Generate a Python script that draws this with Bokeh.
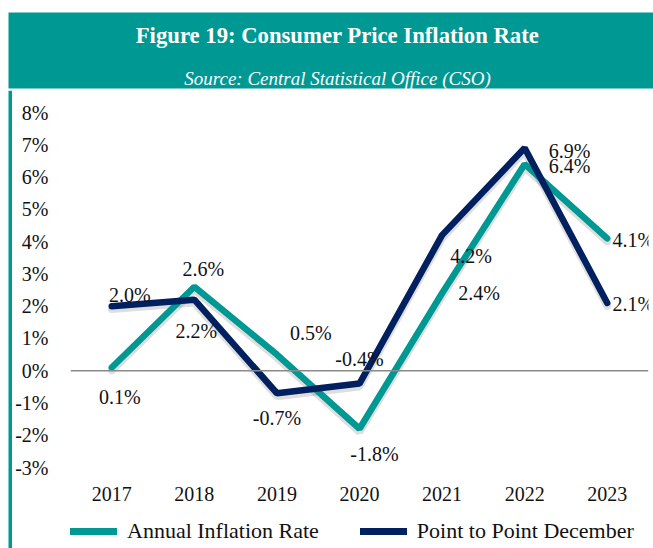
from bokeh.plotting import figure
from bokeh.layouts import column, row
from bokeh.models import (FactorRange, Range1d, FixedTicker, PrintfTickFormatter, Span,
                          Legend, LegendItem, ColumnDataSource)
from bokeh.embed import file_html
from bokeh.resources import INLINE
from bokeh.core.properties import value

# ---- data ----
years = ["2017", "2018", "2019", "2020", "2021", "2022", "2023"]
annual_inflation = [0.1, 2.6, 0.5, -1.8, 2.4, 6.4, 4.1]
point_to_point_dec = [2.0, 2.2, -0.7, -0.4, 4.2, 6.9, 2.1]
y_ticks = [-3, -2, -1, 0, 1, 2, 3, 4, 5, 6, 7, 8]
series_names = ["Annual Inflation Rate", "Point to Point December"]
title_text = "Figure 19: Consumer Price Inflation Rate"
subtitle_text = "Source: Central Statistical Office (CSO)"

# label placement (screen-pixel offsets, +y is down)
annual_dx = [8, 9, 34, 15, 37, 45, 26]
annual_dy = [30, -18, -22, 25, 0, 2, 2]
p2p_dx = [18, 2, 0, 0, 29, 45, 26]
p2p_dy = [-11, 31, 25, -25, 21, 3, 1]

TEAL = "#009893"
NAVY = "#002060"
FONT = "Liberation Serif"
TXT = "#111111"
Y_MIN, Y_MAX = -3, 8
SHADOW_SHIFT = 0.09  # about 3 px lower


def blank(w, h, xr, yr):
    f = figure(width=w, height=h, x_range=xr, y_range=yr, output_backend="svg",
               toolbar_location=None, x_axis_type=None, y_axis_type=None, min_border=0)
    f.outline_line_color = None
    f.xgrid.grid_line_color = None
    f.ygrid.grid_line_color = None
    f.background_fill_color = "white"
    f.border_fill_color = "white"
    return f


# ---- header band ----
hdr = blank(653, 90, Range1d(0, 653), Range1d(90, 0))
hdr.quad(left=[8], right=[653], top=[12], bottom=[88], fill_color=TEAL, line_color=None)
hdr.text(x=[337], y=[35], text=[title_text], text_font=value(FONT), text_font_size="22.7px",
         text_font_style="bold", text_color="white", text_align="center",
         text_baseline="alphabetic")
hdr.text(x=[337], y=[78], text=[subtitle_text], text_font=value(FONT), text_font_size="19px",
         text_font_style="italic", text_color="white", text_align="center",
         text_baseline="alphabetic")

# ---- left border ----
brd = blank(12, 458, Range1d(0, 12), Range1d(0, 458))
brd.quad(left=[8], right=[12], top=[458], bottom=[0], fill_color=TEAL, line_color=None)

# ---- main chart ----
p = figure(width=641, height=420, x_range=FactorRange(*years), y_range=Range1d(Y_MIN, Y_MAX),
           output_backend="svg", toolbar_location=None,
           min_border_left=57, min_border_right=5, min_border_top=22, min_border_bottom=43)
p.outline_line_color = None
p.xgrid.grid_line_color = None
p.ygrid.grid_line_color = None
p.background_fill_color = "white"
p.border_fill_color = "white"
p.extra_y_ranges = {"shadow": Range1d(Y_MIN + SHADOW_SHIFT, Y_MAX + SHADOW_SHIFT)}

p.yaxis.ticker = FixedTicker(ticks=y_ticks)
p.yaxis.formatter = PrintfTickFormatter(format="%d%%")
for ax in (p.xaxis[0], p.yaxis[0]):
    ax.axis_line_color = None
    ax.major_tick_line_color = None
    ax.minor_tick_line_color = None
    ax.major_label_text_font = FONT
    ax.major_label_text_font_size = "20px"
    ax.major_label_text_color = TXT
p.yaxis.major_label_standoff = 16
p.xaxis.major_label_standoff = 13

p.add_layout(Span(location=0, dimension="width", line_color="#8a8a8a", line_width=1.5))

src_a = ColumnDataSource(dict(x=years, y=annual_inflation,
                              t=["%.1f%%" % v for v in annual_inflation],
                              dx=annual_dx, dy=annual_dy))
src_p = ColumnDataSource(dict(x=years, y=point_to_point_dec,
                              t=["%.1f%%" % v for v in point_to_point_dec],
                              dx=p2p_dx, dy=p2p_dy))
# soft drop shadows
for s in (src_a, src_p):
    p.line("x", "y", source=s, y_range_name="shadow", line_color="black", line_alpha=0.13,
           line_width=8, line_cap="round")
p.line("x", "y", source=src_a, line_color=TEAL, line_width=6.5, line_cap="round")
p.line("x", "y", source=src_p, line_color=NAVY, line_width=6.5, line_cap="round")
for s in (src_a, src_p):
    p.text("x", "y", text="t", source=s, x_offset="dx", y_offset="dy",
           text_font=value(FONT), text_font_size="20px", text_color=TXT,
           text_align="center", text_baseline="middle")

# ---- legend strip (same series, drawn out of its view so only the legend shows) ----
lg = blank(641, 38, p.x_range, Range1d(100, 101))
la = lg.line("x", "y", source=src_a, line_color=TEAL, line_width=7, line_cap="round")
lp = lg.line("x", "y", source=src_p, line_color=NAVY, line_width=7, line_cap="round")
legend = Legend(items=[LegendItem(label=series_names[0], renderers=[la]),
                       LegendItem(label=series_names[1], renderers=[lp])],
                orientation="horizontal", location=(0, 4), padding=0, spacing=41,
                glyph_width=47, glyph_height=20, label_standoff=10, margin=0,
                border_line_alpha=0, background_fill_alpha=0,
                label_text_font=FONT, label_text_font_size="22px", label_text_color=TXT)
lg.add_layout(legend)

layout = column(hdr, row(brd, column(p, lg)))
open("out.html", "w").write(file_html(layout, INLINE))
